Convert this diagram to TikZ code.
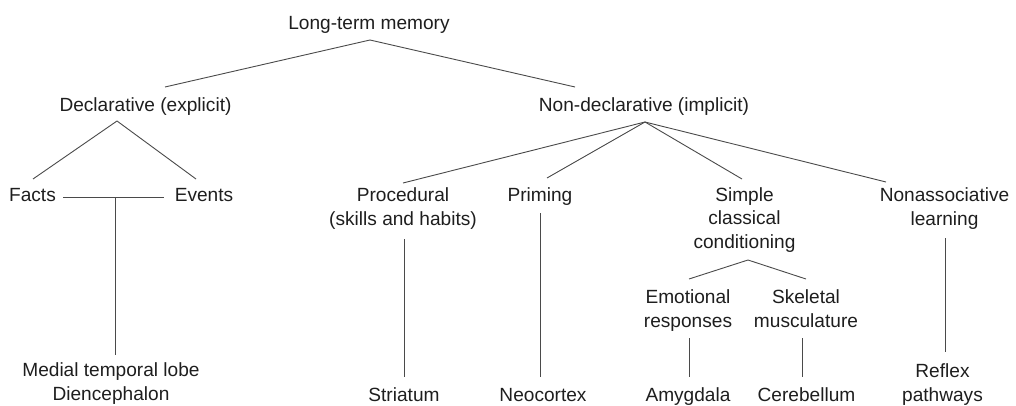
\documentclass[tikz,border=0pt]{standalone}
\usepackage{fontspec}
\setmainfont{Liberation Sans}
\usepackage{tikz}

\definecolor{inkgray}{HTML}{1E1E1E}
\definecolor{linegray}{HTML}{4A4A4A}

\tikzset{
  lbl/.style={font=\fontsize{19.1}{23.3}\selectfont, text=inkgray, align=center,
    inner sep=0pt, anchor=base},
  link/.style={draw=linegray, line width=0.9pt}
}

\begin{document}
\begin{tikzpicture}[x=1pt,y=-1pt]
  \useasboundingbox (0,0) rectangle (1016,406);

  % top levels
  \node[lbl] (ltm) at (369,30) {Long-term memory};
  \node[lbl] (decl) at (145.5,111.5) {Declarative (explicit)};
  \node[lbl] (nondecl) at (644,111.5) {Non-declarative (implicit)};

  % declarative branch (base = last line)
  \node[lbl] (facts) at (32.5,201.7) {Facts};
  \node[lbl] (events) at (204,201.7) {Events};
  \node[lbl] (mtl) at (111,400) {Medial temporal lobe\\Diencephalon};

  % non-declarative branch
  \node[lbl] (proc) at (403,225) {Procedural\\(skills and habits)};
  \node[lbl] (prim) at (540,201.7) {Priming};
  \node[lbl] (simple) at (744.5,248) {Simple\\classical\\conditioning};
  \node[lbl] (nonassoc) at (944.5,225) {Nonassociative\\learning};
  \node[lbl] (emo) at (688,327) {Emotional\\responses};
  \node[lbl] (skel) at (806,327) {Skeletal\\musculature};

  % brain structures
  \node[lbl] (striatum) at (404,401.7) {Striatum};
  \node[lbl] (neocortex) at (543,401.7) {Neocortex};
  \node[lbl] (amygdala) at (688,401.7) {Amygdala};
  \node[lbl] (cerebellum) at (806.5,401.7) {Cerebellum};
  \node[lbl] (reflex) at (942.5,401) {Reflex\\pathways};

  \coordinate (fejoin) at ([shift={(82.5,-4.7)}]facts.base);

  \draw[link] ([shift={(1,10)}]ltm.base) -- ([shift={(19.5,-24.5)}]decl.base);
  \draw[link] ([shift={(1,10)}]ltm.base) -- ([shift={(-69,-24.5)}]nondecl.base);

  \draw[link] ([shift={(-28.5,9.5)}]decl.base) -- ([shift={(0.5,-22.7)}]facts.base);
  \draw[link] ([shift={(-28.5,9.5)}]decl.base) -- ([shift={(-8,-22.7)}]events.base);
  \draw[link] ([shift={(30.5,-4.7)}]facts.base) -- ([shift={(-40,-4.7)}]events.base);
  \draw[link] (fejoin) -- ([shift={(4,-45)}]mtl.base);

  \draw[link] ([shift={(1,10.5)}]nondecl.base) -- ([shift={(0,-42)}]proc.base);
  \draw[link] ([shift={(1,10.5)}]nondecl.base) -- ([shift={(7,-23.7)}]prim.base);
  \draw[link] ([shift={(1,10.5)}]nondecl.base) -- ([shift={(-2.5,-69)}]simple.base);
  \draw[link] ([shift={(1,10.5)}]nondecl.base) -- ([shift={(-58.5,-43)}]nonassoc.base);

  \draw[link] ([shift={(1,14)}]proc.base) -- ([shift={(0,-24.7)}]striatum.base);
  \draw[link] ([shift={(0,11.3)}]prim.base) -- ([shift={(-3,-24.7)}]neocortex.base);
  \draw[link] ([shift={(0.5,13)}]nonassoc.base) -- ([shift={(2.5,-49)}]reflex.base);

  \draw[link] ([shift={(3.5,12)}]simple.base) -- ([shift={(1,-48)}]emo.base);
  \draw[link] ([shift={(3.5,12)}]simple.base) -- ([shift={(0,-48)}]skel.base);
  \draw[link] ([shift={(1,11)}]emo.base) -- ([shift={(1,-24.7)}]amygdala.base);
  \draw[link] ([shift={(-4,11)}]skel.base) -- ([shift={(-4.5,-24.7)}]cerebellum.base);
\end{tikzpicture}
\end{document}
